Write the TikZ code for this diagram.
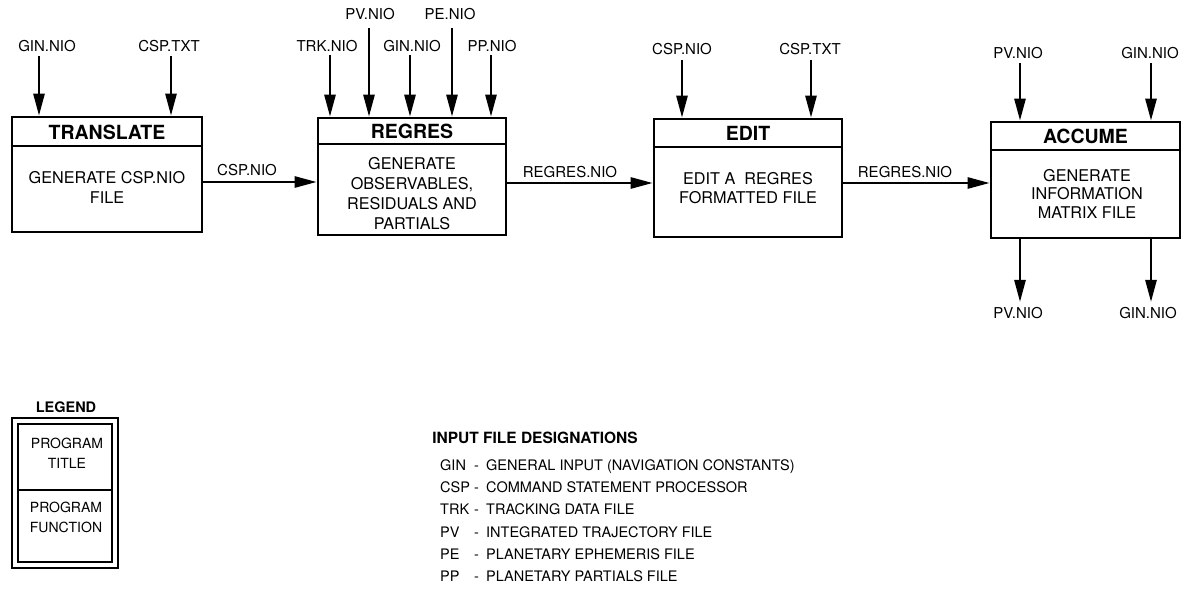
\documentclass[tikz,border=0pt]{standalone}
\usepackage{fontspec}
\setmainfont{TeX Gyre Heros}
\usetikzlibrary{arrows.meta}
\begin{document}
\begin{tikzpicture}[x=1pt,y=-1pt,
  lbl/.style={font=\fontsize{15}{17}\selectfont, inner sep=0pt},
  ttl/.style={font=\fontsize{19.5}{21}\selectfont\bfseries, inner sep=0pt},
  body/.style={font=\fontsize{16.2}{19.5}\selectfont, align=center, inner sep=0pt},
  prog/.style={draw, line width=2.6pt, inner sep=0pt},
  divline/.style={line width=2.2pt},
  flow/.style={line width=2.6pt, -{Triangle[length=22pt,width=11pt]}},
  legtxt/.style={font=\fontsize{14}{20}\selectfont, align=center, inner sep=0pt},
  listtxt/.style={font=\fontsize{14.5}{17}\selectfont, inner sep=0pt, anchor=base west},
]
\useasboundingbox (0,0) rectangle (1192,596);

% ---------- TRANSLATE ----------
\node[prog, minimum width=190pt, minimum height=115pt] (tr) at (107,174.5) {};
\draw[divline] (tr.north west) ++(0,30) coordinate (trd1) -- (trd1 -| tr.east);
\node[ttl] (trt) at (107,132) {TRANSLATE};
\node[body] (trb) at (107,187.5) {GENERATE CSP.NIO\\FILE};

% ---------- REGRES ----------
\node[prog, minimum width=188pt, minimum height=117pt] (rg) at (412,176.5) {};
\draw[divline] (rg.north west) ++(0,27) coordinate (rgd1) -- (rgd1 -| rg.east);
\node[ttl] (rgt) at (412,131.5) {REGRES};
\node[body, font=\fontsize{16.2}{20}\selectfont] (rgb) at (412,193.5) {GENERATE\\OBSERVABLES,\\RESIDUALS AND\\PARTIALS};

% ---------- EDIT ----------
\node[prog, minimum width=188pt, minimum height=118pt] (ed) at (748,178) {};
\draw[divline] (ed.north west) ++(0,29) coordinate (edd1) -- (edd1 -| ed.east);
\node[ttl] (edt) at (748,133.5) {EDIT};
\node[body, font=\fontsize{16.2}{18.5}\selectfont] (edb) at (748,188) {EDIT A\ \ REGRES\\FORMATTED FILE};

% ---------- ACCUME ----------
\node[prog, minimum width=189pt, minimum height=116pt] (ac) at (1085.5,180) {};
\draw[divline] (ac.north west) ++(0,29) coordinate (acd1) -- (acd1 -| ac.east);
\node[ttl] (act) at (1085.5,136.5) {ACCUME};
\node[body, font=\fontsize{16.2}{18.5}\selectfont] (acb) at (1087,193.5) {GENERATE\\INFORMATION\\MATRIX FILE};

% ---------- input labels and arrows ----------
\node[lbl] (l1) at (47,46) {GIN.NIO};
\node[lbl] (l2) at (169,46) {CSP.TXT};
\coordinate (s1) at (39,56);
\coordinate (s2) at (171,56);
\draw[flow] (s1) -- (s1 |- tr.north);
\draw[flow] (s2) -- (s2 |- tr.north);

\node[lbl] (l3) at (327,46) {TRK.NIO};
\node[lbl] (l4) at (370,14) {PV.NIO};
\node[lbl] (l5) at (412,46) {GIN.NIO};
\node[lbl] (l6) at (450,14) {PE.NIO};
\node[lbl] (l7) at (492,46) {PP.NIO};
\coordinate (s3) at (330,55);
\coordinate (s4) at (369,28);
\coordinate (s5) at (410,55);
\coordinate (s6) at (452,28);
\coordinate (s7) at (491,55);
\foreach \s in {s3,s4,s5,s6,s7} \draw[flow] (\s) -- (\s |- rg.north);

\node[lbl] (l8) at (682,49) {CSP.NIO};
\node[lbl] (l9) at (810,49) {CSP.TXT};
\coordinate (s8) at (682,60);
\coordinate (s9) at (811,60);
\draw[flow] (s8) -- (s8 |- ed.north);
\draw[flow] (s9) -- (s9 |- ed.north);

\node[lbl] (l10) at (1018,53) {PV.NIO};
\node[lbl] (l11) at (1150,53) {GIN.NIO};
\coordinate (s10) at (1020,63);
\coordinate (s11) at (1151,63);
\draw[flow] (s10) -- (s10 |- ac.north);
\draw[flow] (s11) -- (s11 |- ac.north);

% ---------- outputs ----------
\node[lbl] (o1) at (1018,313) {PV.NIO};
\node[lbl] (o2) at (1148,313) {GIN.NIO};
\coordinate (e1) at (1020,302);
\coordinate (e2) at (1151,302);
\draw[flow] (e1 |- ac.south) -- (e1);
\draw[flow] (e2 |- ac.south) -- (e2);

% ---------- flow between programs ----------
\draw[flow] (tr.east |- 0,182) coordinate (f1) -- (f1 -| rg.west);
\node[lbl] (c1) at (247,170) {CSP.NIO};
\draw[flow] (rg.east |- 0,183) coordinate (f2) -- (f2 -| ed.west);
\node[lbl] (c2) at (570,172) {REGRES.NIO};
\draw[flow] (ed.east |- 0,183) coordinate (f3) -- (f3 -| ac.west);
\node[lbl] (c3) at (905,172) {REGRES.NIO};

% ---------- legend ----------
\node[ttl, font=\fontsize{14.5}{16}\selectfont\bfseries] (lg) at (66,407) {LEGEND};
\node[draw, line width=2.6pt, minimum width=106pt, minimum height=150pt, inner sep=0pt] (lgo) at (65,493) {};
\node[draw, line width=2pt, minimum width=94pt, minimum height=138pt, inner sep=0pt] (lgi) at (65,493) {};
\draw[line width=2pt] (lgi.west |- 0,490) -- (lgi.east |- 0,490);
\node[legtxt] (lg1) at (67,453) {PROGRAM\\TITLE};
\node[legtxt] (lg2) at (66,517) {PROGRAM\\FUNCTION};

% ---------- input file designations ----------
\node[ttl, font=\fontsize{15.5}{17}\selectfont\bfseries] (idt) at (535,438) {INPUT FILE DESIGNATIONS};
\foreach \y/\a/\t [count=\i] in {470/GIN/GENERAL INPUT (NAVIGATION CONSTANTS),
  492/CSP/COMMAND STATEMENT PROCESSOR,
  514/TRK/TRACKING DATA FILE,
  537/PV/INTEGRATED TRAJECTORY FILE,
  559/PE/PLANETARY EPHEMERIS FILE,
  581/PP/PLANETARY PARTIALS FILE} {
  \node[listtxt] (ab\i) at (440,\y) {\a};
  \node[listtxt] (dh\i) at (474,\y) {-};
  \node[listtxt] (tx\i) at (486,\y) {\t};
}
\end{tikzpicture}
\end{document}
